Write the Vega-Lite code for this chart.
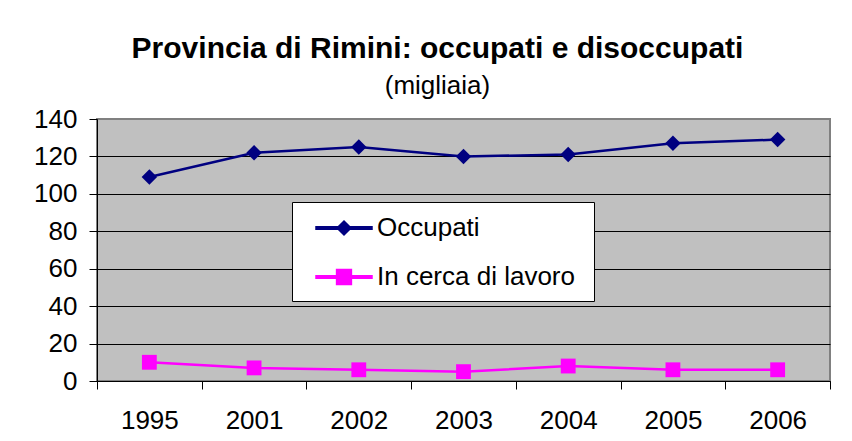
{
  "$schema": "https://vega.github.io/schema/vega-lite/v6.json",
  "width": 733,
  "height": 262,
  "autosize": {"type": "none"},
  "padding": {"left": 97, "top": 119, "right": 22, "bottom": 60},
  "background": "white",
  "title": {
    "text": "Provincia di Rimini: occupati e disoccupati",
    "subtitle": "(migliaia)",
    "anchor": "middle",
    "frame": "group",
    "dx": -26,
    "offset": 7,
    "font": "Liberation Sans",
    "fontSize": 30,
    "fontWeight": "bold",
    "color": "black",
    "subtitleFont": "Liberation Sans",
    "subtitleFontSize": 26,
    "subtitleColor": "black",
    "subtitlePadding": 9
  },
  "config": {
    "font": "Liberation Sans",
    "view": {"fill": "#C0C0C0", "stroke": "#808080", "strokeWidth": 2}
  },
  "data": {
    "values": [
      {"anno": "1995", "serie": "Occupati", "valore": 109},
      {"anno": "2001", "serie": "Occupati", "valore": 122},
      {"anno": "2002", "serie": "Occupati", "valore": 125},
      {"anno": "2003", "serie": "Occupati", "valore": 120},
      {"anno": "2004", "serie": "Occupati", "valore": 121},
      {"anno": "2005", "serie": "Occupati", "valore": 127},
      {"anno": "2006", "serie": "Occupati", "valore": 129},
      {"anno": "1995", "serie": "In cerca  di lavoro", "valore": 10},
      {"anno": "2001", "serie": "In cerca  di lavoro", "valore": 7},
      {"anno": "2002", "serie": "In cerca  di lavoro", "valore": 6},
      {"anno": "2003", "serie": "In cerca  di lavoro", "valore": 5},
      {"anno": "2004", "serie": "In cerca  di lavoro", "valore": 8},
      {"anno": "2005", "serie": "In cerca  di lavoro", "valore": 6},
      {"anno": "2006", "serie": "In cerca  di lavoro", "valore": 6}
    ]
  },
  "encoding": {
    "x": {
      "field": "anno",
      "type": "ordinal",
      "scale": {"type": "band", "paddingInner": 0, "paddingOuter": 0},
      "axis": {
        "title": null,
        "labelAngle": 0,
        "labelFontSize": 26,
        "labelColor": "black",
        "labelPadding": 18,
        "tickBand": "extent",
        "tickSize": 8,
        "tickColor": "black",
        "domainColor": "black",
        "grid": false
      }
    },
    "y": {
      "field": "valore",
      "type": "quantitative",
      "scale": {"domain": [0, 140], "nice": false},
      "axis": {
        "title": null,
        "values": [0, 20, 40, 60, 80, 100, 120, 140],
        "labelFontSize": 26,
        "labelColor": "black",
        "labelPadding": 12,
        "tickSize": 8,
        "tickColor": "black",
        "domainColor": "black",
        "grid": true,
        "gridColor": {"condition": {"test": "datum.value === 140", "value": "#808080"}, "value": "black"},
        "gridOpacity": 1
      }
    },
    "color": {
      "field": "serie",
      "type": "nominal",
      "scale": {"domain": ["Occupati", "In cerca  di lavoro"], "range": ["#000080", "#FF00FF"]},
      "legend": {
        "title": null,
        "orient": "none",
        "legendX": 195,
        "legendY": 83,
        "direction": "vertical",
        "fillColor": "white",
        "strokeColor": "black",
        "padding": 11,
        "labelFontSize": 26,
        "labelColor": "black",
        "labelOffset": 18,
        "symbolOffset": 26,
        "symbolSize": 784,
        "symbolOpacity": 1,
        "rowPadding": 21,
        "labelLimit": 400
      }
    }
  },
  "layer": [
    {
      "mark": {"type": "line", "strokeWidth": 2.5}
    },
    {
      "transform": [{"filter": "datum.serie === 'Occupati'"}],
      "mark": {"type": "point", "filled": true, "opacity": 1, "size": 240, "shape": "diamond"}
    },
    {
      "transform": [{"filter": "datum.serie !== 'Occupati'"}],
      "mark": {"type": "point", "filled": true, "opacity": 1, "size": 220, "shape": "square"}
    },
    {
      "mark": {"type": "point", "filled": true, "opacity": 0, "size": 784},
      "encoding": {
        "shape": {
          "field": "serie",
          "type": "nominal",
          "scale": {"domain": ["Occupati", "In cerca  di lavoro"], "range": ["M-2,-0.09L2,-0.09L2,0.09L-2,0.09ZM0,-0.5L0.5,0L0,0.5L-0.5,0Z", "M-2,-0.09L2,-0.09L2,0.09L-2,0.09ZM-0.53,-0.53L0.53,-0.53L0.53,0.53L-0.53,0.53Z"]},
          "legend": null
        }
      }
    }
  ]
}
